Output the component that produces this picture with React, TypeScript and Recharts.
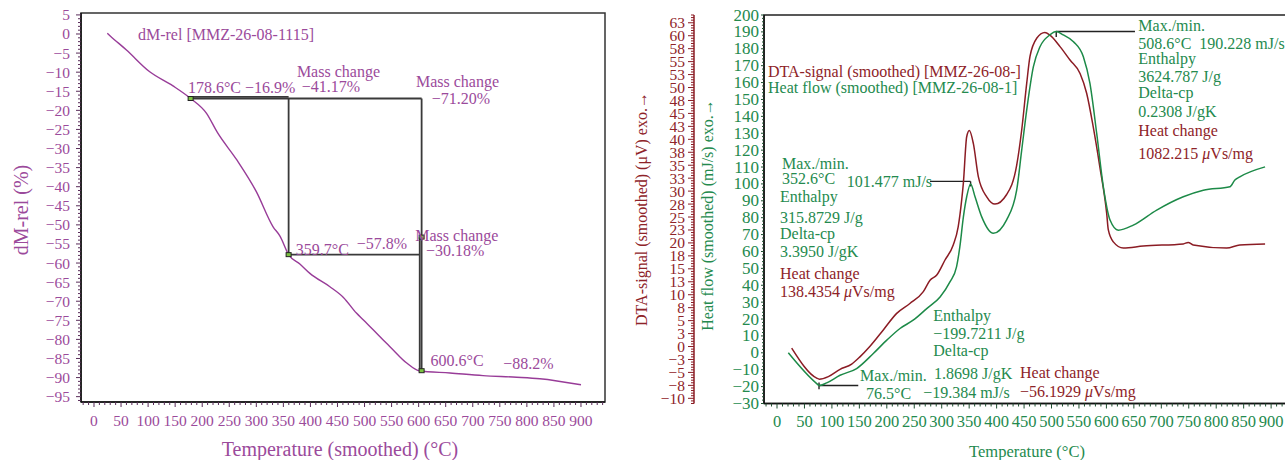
import React from 'react'
import {
  LineChart,
  Line,
  XAxis,
  YAxis,
  ReferenceLine,
  ReferenceDot,
  ReferenceArea,
} from 'recharts'

const FONT = '"Liberation Serif", "DejaVu Serif", serif'
const PURPLE = '#983c98'
const PURPLE_TEXT = '#9b4a9b'
const RED = '#8b1c24'
const RED_TEXT = '#8e2328'
const GREEN = '#1d8a48'
const GREEN_TEXT = '#248a4e'

// ---- TG curve (left panel): temperature (°C) vs dM-rel (%)
const tgTemp = [24.6, 30, 60, 103, 146, 178.6, 208, 228, 264, 300, 331, 344, 359.7, 381, 399, 436, 461, 485, 498, 534, 547, 578, 600.6, 658, 719, 781, 824, 900]
const tgMass = [0.2, -0.5, -4.2, -9.9, -13.6, -16.9, -20.8, -25.8, -33, -41.3, -50.5, -53, -57.8, -60.3, -62.7, -66.2, -69, -73.1, -74.9, -80.1, -81.9, -86.2, -88.2, -88.8, -89.5, -89.9, -90.3, -91.9]

// ---- DTA signal (right panel, µV)
const dtaTemp = [26.7, 72.3, 77, 93.5, 114.8, 136, 151, 169, 193.6, 218, 242, 266.5, 278.7, 291, 306, 321, 330, 336.4, 339.4, 345.5, 350.3, 357.6, 366.7, 382, 397, 418, 436.6, 445.7, 454.8, 460.8, 473, 488, 497, 515.5, 533.7, 552, 564, 576, 588, 600.5, 603.5, 612.6, 630.8, 667, 740, 749, 758, 819, 843, 889]
const dtaSignal = [-0.3, -6.1, -6.3, -5.8, -4.4, -3.4, -2.0, 0.0, 3.2, 6.4, 8.3, 10.6, 12.8, 13.8, 16.7, 19.6, 23.1, 28.3, 31.5, 40.5, 41.7, 39.2, 32.8, 28.9, 27.5, 29.3, 35, 41.8, 50.8, 56, 59.5, 60.6, 60.1, 57.9, 55.3, 52.7, 48.9, 42.4, 34.7, 25.7, 22.5, 20.2, 19.0, 19.4, 19.8, 20.1, 19.6, 19.0, 19.6, 19.8]

// ---- Heat flow (right panel, mJ/s)
const hfTemp = [20.6, 72.3, 77, 90.5, 114.8, 145, 175.4, 200, 224, 248, 272.7, 297, 315, 327, 333, 339.5, 345.5, 352.6, 360.7, 372.9, 394, 418, 436.6, 445.7, 454.8, 467, 479, 497, 508.6, 521.5, 540, 558, 570, 582.3, 594.4, 606.6, 621.7, 649, 691.6, 740, 776.5, 825, 834, 843, 889]
const hfValue = [0, -18.2, -19.4, -17.8, -13.3, -9.3, -0.4, 7.5, 14.4, 19.3, 26.2, 33.1, 42.0, 50.9, 62.7, 80.5, 92.4, 100, 92.4, 80.5, 70.8, 78.6, 96.4, 120, 143.7, 169.4, 181.2, 188.2, 190.2, 188.2, 184.2, 175.3, 159.5, 129.9, 98.3, 78.6, 72.6, 75.6, 84.5, 92.4, 96.3, 98.3, 102.3, 104.2, 110.1]

const range = (from: number, to: number, step: number) => {
  const out: number[] = []
  const n = Math.round((to - from) / step)
  for (let i = 0; i <= n; i++) out.push(Math.round((from + i * step) * 100) / 100)
  return out
}

const tgXTicks = range(-20, 940, 10)
const tgYTicks = range(-96, 5, 1)
const dscXTicks = range(-20, 930, 10)
const hfTicks = range(-30, 200, 2)
const dtaTicks = range(-11, 64, 0.5)

// mass-change step construction
const tgSteps = [
  { t1: 178.6, v1: -16.9, t2: 605.5, v2: -16.9 },
  { t1: 178.6, v1: -16.45, t2: 359.7, v2: -16.45 },
  { t1: 359.7, v1: -16.9, t2: 359.7, v2: -57.8 },
  { t1: 359.7, v1: -57.8, t2: 602, v2: -57.8 },
  { t1: 605.5, v1: -16.9, t2: 605.5, v2: -88.2 },
  { t1: 602, v1: -53.2, t2: 602, v2: -88.2 },
]
const tgMarks = [
  { t: 178.6, v: -16.9 },
  { t: 359.7, v: -57.8 },
  { t: 605.5, v: -53.2 },
  { t: 605.5, v: -88.2 },
]
const tgNotes = [
  { t: 81.3, v: -0.24, text: 'dM-rel [MMZ-26-08-1115]' },
  { t: 173.7, v: -14.1, text: '178.6°C −16.9%' },
  { t: 375, v: -9.85, text: 'Mass change' },
  { t: 384, v: -13.8, text: '−41.17%' },
  { t: 595, v: -12.5, text: 'Mass change' },
  { t: 624, v: -16.8, text: '−71.20%' },
  { t: 373, v: -56.4, text: '359.7°C' },
  { t: 485.5, v: -55.0, text: '−57.8%' },
  { t: 593.8, v: -52.9, text: 'Mass change' },
  { t: 613.6, v: -56.7, text: '−30.18%' },
  { t: 622, v: -85.6, text: '600.6°C' },
  { t: 756.4, v: -86.4, text: '−88.2%' },
]

const hfGuides = [
  { t1: 278.7, v1: 101.477, t2: 352.6, v2: 101.477 },
  { t1: 352.6, v1: 101.477, t2: 352.6, v2: 98.5 },
  { t1: 76.5, v1: -19.384, t2: 148, v2: -19.384 },
  { t1: 76.5, v1: -17.6, t2: 76.5, v2: -21.6 },
  { t1: 508.6, v1: 190.228, t2: 652, v2: 190.228 },
  { t1: 508.6, v1: 190.228, t2: 508.6, v2: 187 },
]
const dscNotes = [
  { t: -16.4, v: 166.8, text: 'DTA-signal (smoothed) [MMZ-26-08-]', kind: 'dta' },
  { t: -16.4, v: 156.8, text: 'Heat flow (smoothed) [MMZ-26-08-1]', kind: 'hf' },
  { t: 9.1, v: 112.3, text: 'Max./min.', kind: 'hf' },
  { t: 9.1, v: 103.4, text: '352.6°C', kind: 'hf' },
  { t: 127, v: 101.7, text: '101.477 mJ/s', kind: 'hf' },
  { t: 5.5, v: 92.8, text: 'Enthalpy', kind: 'hf' },
  { t: 5.5, v: 80.3, text: '315.8729 J/g', kind: 'hf' },
  { t: 5.5, v: 70.8, text: 'Delta-cp', kind: 'hf' },
  { t: 5.5, v: 59.9, text: '3.3950 J/gK', kind: 'hf' },
  { t: 5.5, v: 47.2, text: 'Heat change', kind: 'dta' },
  { t: 5.5, v: 36.5, text: '138.4354 μVs/mg', kind: 'dta' },
  { t: 284.7, v: 22.3, text: 'Enthalpy', kind: 'hf' },
  { t: 284.7, v: 11.4, text: '−199.7211 J/g', kind: 'hf' },
  { t: 284.7, v: 1.1, text: 'Delta-cp', kind: 'hf' },
  { t: 286, v: -12.3, text: '1.8698 J/gK', kind: 'hf' },
  { t: 266.5, v: -23.2, text: '−19.384 mJ/s', kind: 'hf' },
  { t: 151.2, v: -13.3, text: 'Max./min.', kind: 'hf' },
  { t: 162.1, v: -24.1, text: '76.5°C', kind: 'hf' },
  { t: 442.6, v: -11.9, text: 'Heat change', kind: 'dta' },
  { t: 442.6, v: -22.7, text: '−56.1929 μVs/mg', kind: 'dta' },
  { t: 658.1, v: 193.5, text: 'Max./min.', kind: 'hf' },
  { t: 658.1, v: 183.2, text: '508.6°C  190.228 mJ/s', kind: 'hf' },
  { t: 658.1, v: 174.3, text: 'Enthalpy', kind: 'hf' },
  { t: 658.1, v: 163.4, text: '3624.787 J/g', kind: 'hf' },
  { t: 658.1, v: 154.0, text: 'Delta-cp', kind: 'hf' },
  { t: 658.1, v: 143.1, text: '0.2308 J/gK', kind: 'hf' },
  { t: 658.1, v: 131.9, text: 'Heat change', kind: 'dta' },
  { t: 658.1, v: 118.1, text: '1082.215 μVs/mg', kind: 'dta' },
]

const tgData = tgTemp.map((t, i) => ({ t, v: tgMass[i] }))
const dtaData = dtaTemp.map((t, i) => ({ t, v: dtaSignal[i] }))
const hfData = hfTemp.map((t, i) => ({ t, v: hfValue[i] }))

const isMult = (v: number, m: number) => Math.abs(v / m - Math.round(v / m)) < 1e-6
const fmt = (v: number) => (v < 0 ? '\u2212' + Math.abs(v) : String(v))
const fmtDta = (v: number) => {
  const r = Math.sign(v) * Math.round(Math.abs(v))
  return r < 0 ? '\u2212' + Math.abs(r) : String(r)
}

// italic µ inside otherwise upright text
function rich(text: string) {
  const parts = text.split('μ')
  return parts.map((p, i) => (
    <React.Fragment key={i}>
      {i > 0 && <tspan fontStyle="italic">μ</tspan>}
      {p}
    </React.Fragment>
  ))
}

function xTick(every: number, textColor: string, markColor: string, size: number) {
  return (props: any) => {
    const { x, y, payload } = props
    const v = payload.value
    const major = isMult(v, every)
    return (
      <g>
        <line x1={x} x2={x} y1={y} y2={y + (major ? 5 : 3)} stroke={markColor} strokeWidth={1} />
        {major && (
          <text x={x} y={y + 18} textAnchor="middle" dominantBaseline="central" fill={textColor} fontSize={size} fontFamily={FONT}>
            {fmt(v)}
          </text>
        )}
      </g>
    )
  }
}

function yTick(every: number, textColor: string, markColor: string, size: number, gap: number, majorLen: number, minorLen: number, format: (v: number) => string) {
  return (props: any) => {
    const { x, y, payload } = props
    const v = payload.value
    const major = isMult(v, every)
    return (
      <g>
        <line x1={x - (major ? majorLen : minorLen)} x2={x} y1={y} y2={y} stroke={markColor} strokeWidth={1} />
        {major && (
          <text x={x - gap} y={y} textAnchor="end" dominantBaseline="central" fill={textColor} fontSize={size} fontFamily={FONT}>
            {format(v)}
          </text>
        )}
      </g>
    )
  }
}

// stable tick renderers (module level so axis settings don't churn)
const tgXTick = xTick(50, PURPLE_TEXT, '#5a2d5a', 15.5)
const tgYTick = yTick(5, PURPLE_TEXT, '#5a2d5a', 15.5, 11, 5, 3, fmt)
const dscXTick = xTick(50, GREEN_TEXT, '#1f4f30', 16.5)
const hfYTick = yTick(10, GREEN_TEXT, '#1f4f30', 17, 5, 3, 2, fmt)
const dtaYTick = yTick(2.5, RED_TEXT, RED, 15.5, 9, 6, 3, fmtDta)

const noteShape = (text: string, color: string, size: number) => (p: any) => (
  <text x={p.cx} y={p.cy} fill={color} fontSize={size} fontFamily={FONT} dominantBaseline="central" style={{ whiteSpace: 'pre' }}>
    {rich(text)}
  </text>
)

const markShape = (p: any) => (
  <rect x={p.cx - 2.5} y={p.cy - 2} width={5} height={4} fill="#7cc242" stroke="#222" strokeWidth={1} />
)

function Title({ x, y, text, color, size, rotate = false }: any) {
  return (
    <div
      style={{
        position: 'absolute',
        left: x,
        top: y,
        transform: `translate(-50%, -50%)${rotate ? ' rotate(-90deg)' : ''}`,
        whiteSpace: 'nowrap',
        color,
        fontSize: size,
        fontFamily: FONT,
        lineHeight: 1,
      }}
    >
      {rich(text)}
    </div>
  )
}

function TgChart() {
  return (
    <LineChart width={620} height={460} margin={{ top: 13, right: 15, bottom: 28, left: 21 }}>
      <XAxis
        type="number"
        dataKey="t"
        domain={[-24, 944.4]}
        allowDataOverflow
        ticks={tgXTicks}
        interval={0}
        height={30}
        tickSize={0}
        tickMargin={0}
        tickLine={false}
        axisLine={{ stroke: '#111', strokeWidth: 1.5 }}
        tick={tgXTick}
      />
      <YAxis
        type="number"
        domain={[-96.4, 5.5]}
        allowDataOverflow
        ticks={tgYTicks}
        interval={0}
        width={60}
        tickSize={0}
        tickMargin={0}
        tickLine={false}
        axisLine={{ stroke: '#111', strokeWidth: 1.5 }}
        tick={tgYTick}
      />
      <ReferenceArea x1={-24} x2={944.4} y1={-96.4} y2={5.5} fill="none" stroke="#333" strokeWidth={1.5} ifOverflow="visible" />
      {tgSteps.map((s, i) => (
        <ReferenceLine
          key={i}
          segment={[{ x: s.t1, y: s.v1 }, { x: s.t2, y: s.v2 }]}
          stroke="#3a3a3a"
          strokeWidth={1.8}
          ifOverflow="visible"
        />
      ))}
      <Line data={tgData} dataKey="v" type="monotone" stroke={PURPLE} strokeWidth={1.4} dot={false} isAnimationActive={false} />
      {tgMarks.map((m, i) => (
        <ReferenceDot key={i} x={m.t} y={m.v} r={3} shape={markShape} ifOverflow="visible" />
      ))}
      {tgNotes.map((n, i) => (
        <ReferenceDot key={'n' + i} x={n.t} y={n.v} r={0} shape={noteShape(n.text, PURPLE_TEXT, 16)} ifOverflow="visible" />
      ))}
    </LineChart>
  )
}

function DscChart() {
  return (
    <LineChart width={680} height={460} margin={{ top: 15, right: 10, bottom: 26.5, left: 14 }}>
      <XAxis
        type="number"
        dataKey="t"
        domain={[-23.7, 934.4]}
        allowDataOverflow
        ticks={dscXTicks}
        interval={0}
        height={30}
        tickSize={0}
        tickMargin={0}
        tickLine={false}
        axisLine={{ stroke: '#111', strokeWidth: 1.5 }}
        tick={dscXTick}
      />
      {/* inner axis: heat flow */}
      <YAxis
        yAxisId="a_hf"
        type="number"
        domain={[-30, 200]}
        allowDataOverflow
        ticks={hfTicks}
        interval={0}
        width={70}
        tickSize={0}
        tickMargin={0}
        tickLine={false}
        axisLine={{ stroke: '#111', strokeWidth: 1.5 }}
        tick={hfYTick}
      />
      {/* outer axis: DTA signal */}
      <YAxis
        yAxisId="b_dta"
        type="number"
        domain={[-11, 64]}
        allowDataOverflow
        ticks={dtaTicks}
        interval={0}
        width={60}
        tickSize={0}
        tickMargin={0}
        tickLine={false}
        axisLine={{ stroke: RED, strokeWidth: 1.5 }}
        tick={dtaYTick}
      />
      <ReferenceArea yAxisId="a_hf" x1={-23.7} x2={934.4} y1={-30} y2={200} fill="none" stroke="#222" strokeWidth={1.5} ifOverflow="visible" />
      {hfGuides.map((s, i) => (
        <ReferenceLine
          key={i}
          yAxisId="a_hf"
          segment={[{ x: s.t1, y: s.v1 }, { x: s.t2, y: s.v2 }]}
          stroke="#222"
          strokeWidth={1.4}
          ifOverflow="visible"
        />
      ))}
      <Line yAxisId="b_dta" data={dtaData} dataKey="v" type="monotone" stroke={RED} strokeWidth={1.5} dot={false} isAnimationActive={false} />
      <Line yAxisId="a_hf" data={hfData} dataKey="v" type="monotone" stroke={GREEN} strokeWidth={1.5} dot={false} isAnimationActive={false} />
      {dscNotes.map((n, i) => (
        <ReferenceDot
          key={'n' + i}
          yAxisId="a_hf"
          x={n.t}
          y={n.v}
          r={0}
          shape={noteShape(n.text, n.kind === 'dta' ? RED_TEXT : GREEN_TEXT, 16)}
          ifOverflow="visible"
        />
      ))}
    </LineChart>
  )
}

export default function App() {
  return (
    <div
      style={{
        position: 'absolute',
        left: 0,
        top: 0,
        width: 1285,
        height: 460,
        overflow: 'hidden',
        background: '#fff',
      }}
    >
      <div style={{ position: 'absolute', left: 0, top: 0 }}>
        <TgChart />
      </div>
      <div style={{ position: 'absolute', left: 620, top: 0 }}>
        <DscChart />
      </div>

      {/* axis titles */}
      <Title x={21} y={210} text="dM-rel (%)" color={PURPLE_TEXT} size={20} rotate />
      <Title x={340} y={449} text="Temperature (smoothed) (°C)" color={PURPLE_TEXT} size={20} />
      <Title x={642} y={209} text="DTA-signal (smoothed) (μV) exo.→" color={RED_TEXT} size={16} rotate />
      <Title x={708} y={215} text="Heat flow (smoothed) (mJ/s) exo.→" color={GREEN_TEXT} size={16} rotate />
      <Title x={1027} y={452} text="Temperature (°C)" color={GREEN_TEXT} size={16.5} />
    </div>
  )
}
